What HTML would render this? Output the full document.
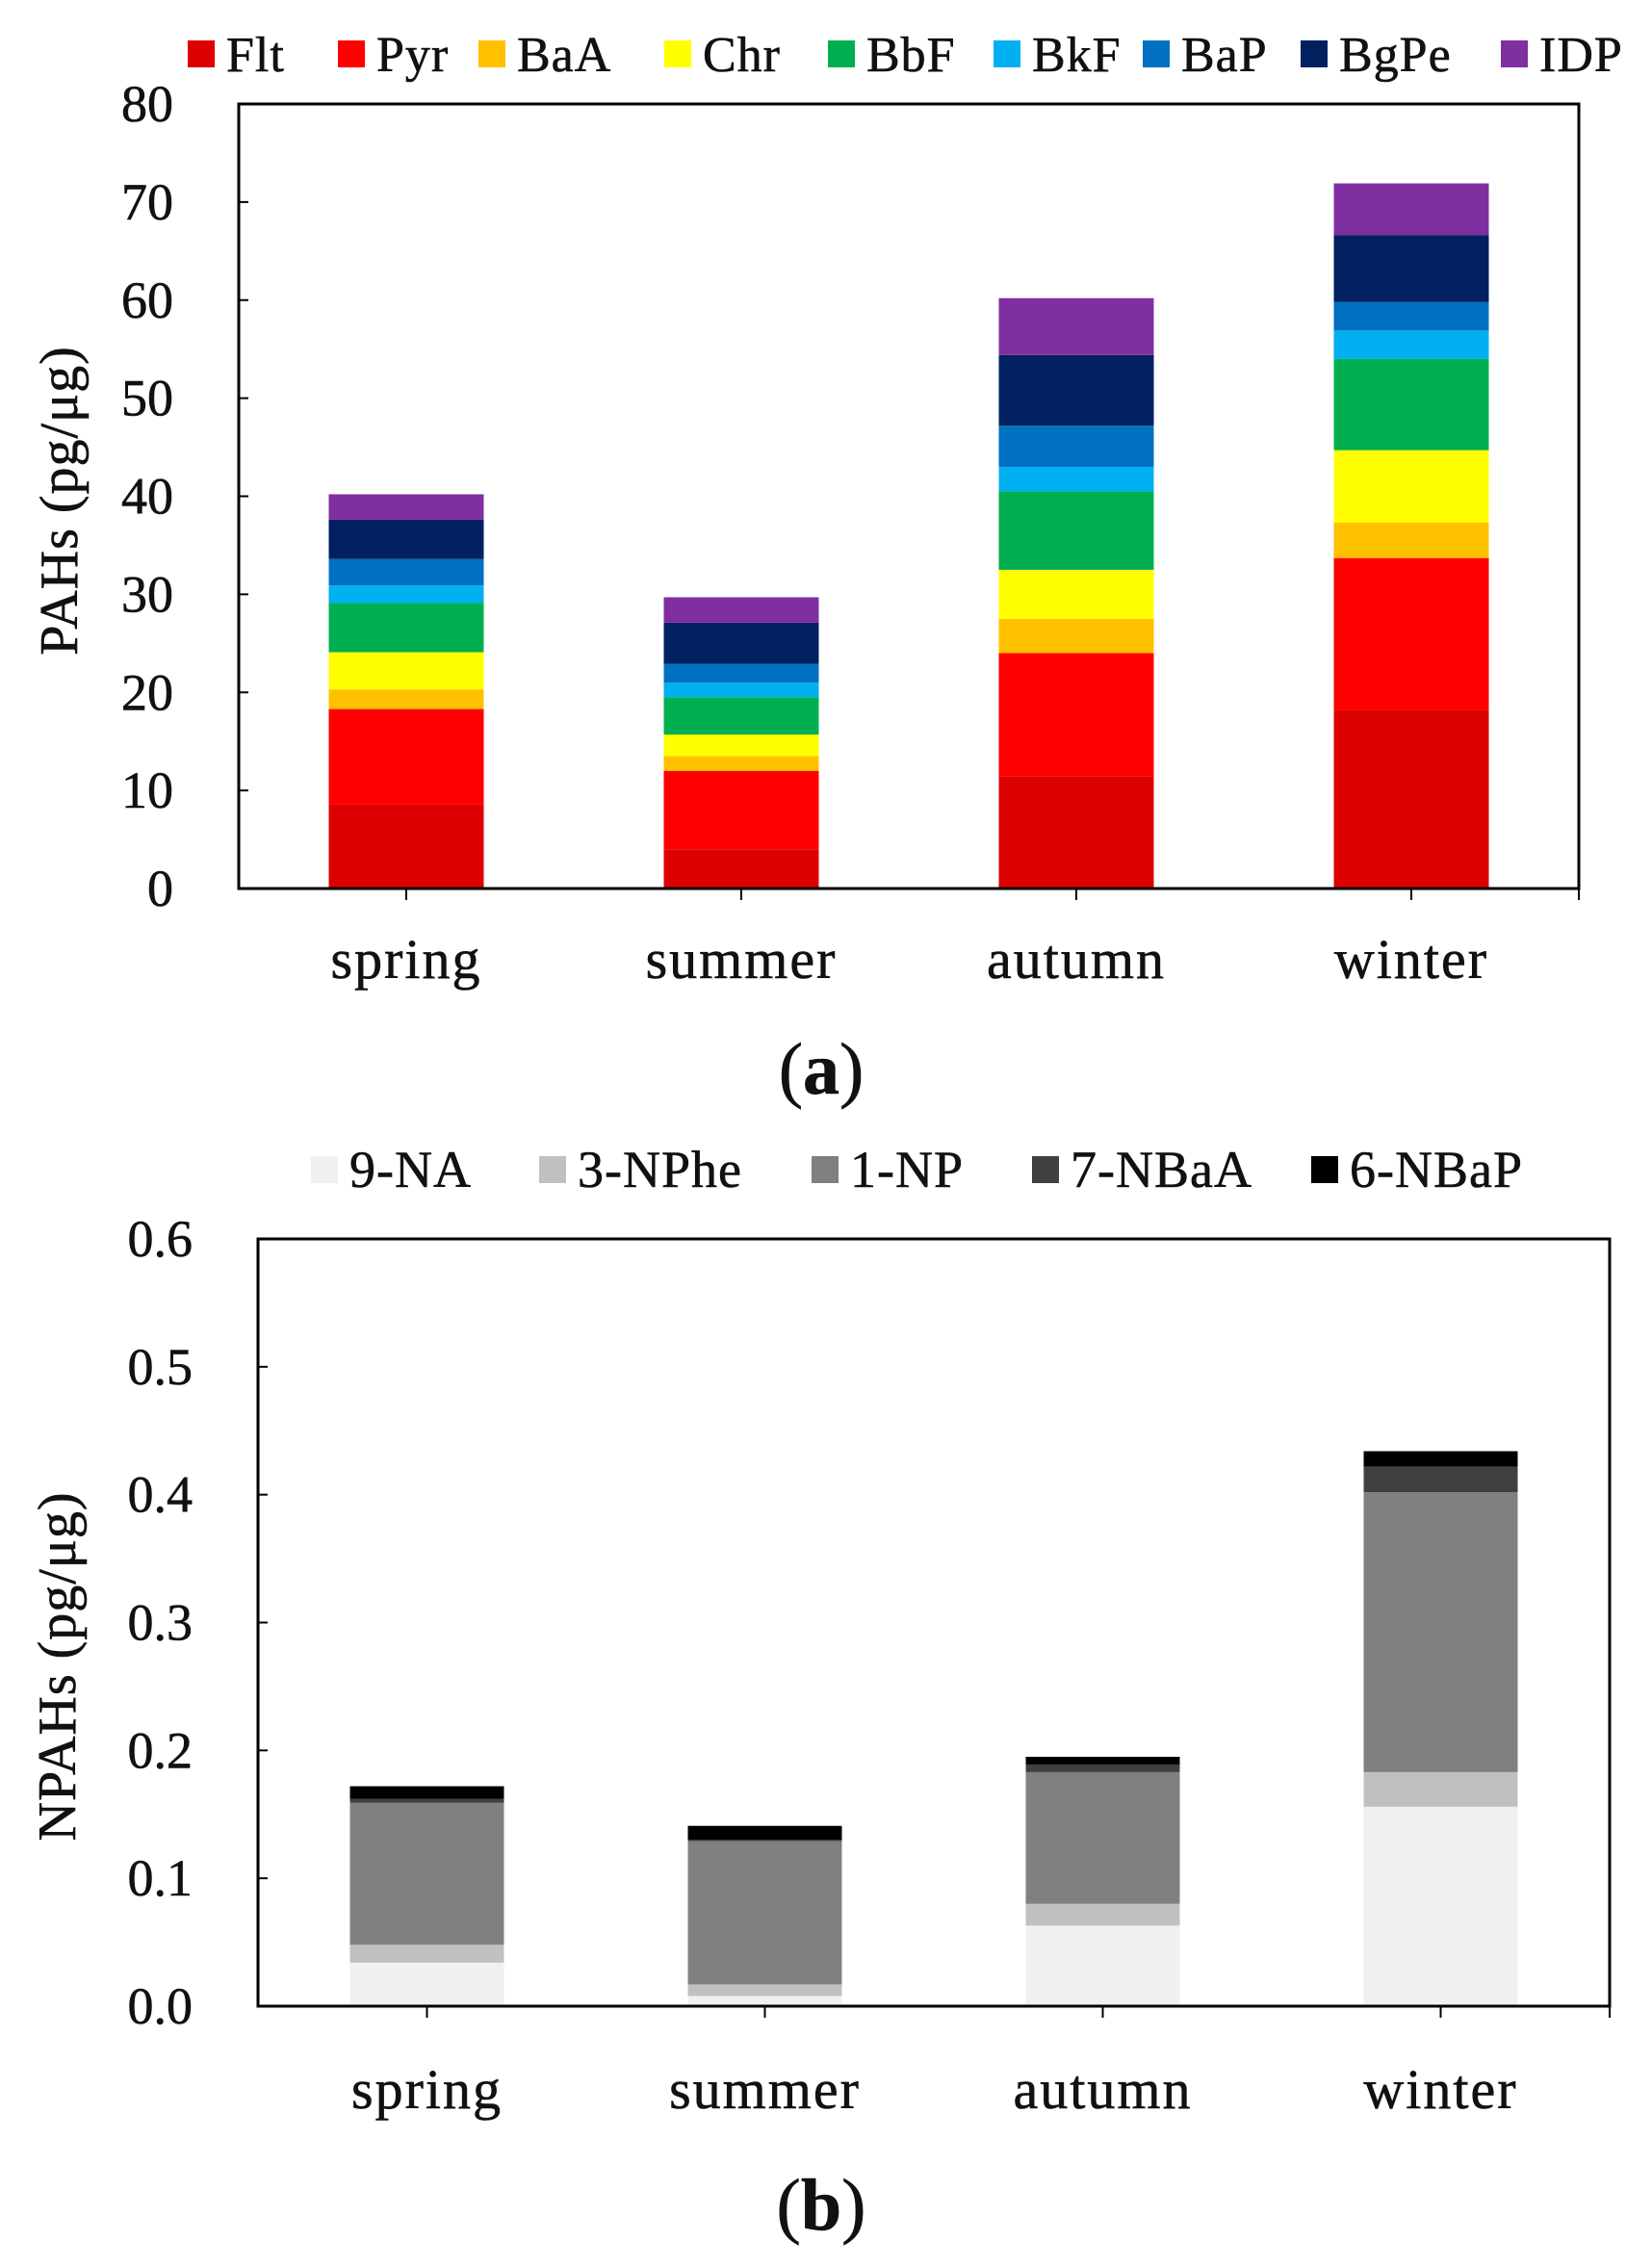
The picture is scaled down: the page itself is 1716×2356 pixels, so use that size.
<!DOCTYPE html>
<html><head><meta charset="utf-8"><style>
html,body{margin:0;padding:0;background:#fff;}
svg{display:block;font-family:"Liberation Serif",serif;}
text{fill:#111;stroke:#111;stroke-width:0.6;}
</style></head><body>
<svg id="fig" width="1716" height="2356" viewBox="0 0 1716 2356" xmlns="http://www.w3.org/2000/svg"></svg>
<script>
const categories = ["spring","summer","autumn","winter"];
// Chart (a) PAHs, pg/ug
const pahNames = ["Flt","Pyr","BaA","Chr","BbF","BkF","BaP","BgPe","IDP"];
const pahColors = ["#dd0000","#ff0000","#ffc000","#ffff00","#00b050","#00b0f0","#0070c0","#002060","#7f2fa0"];
const flt = [8.6,4.0,11.4,18.2];
const pyr = [9.7,8.0,12.6,15.5];
const baa = [2.0,1.5,3.5,3.6];
const chr = [3.8,2.2,5.0,7.4];
const bbf = [5.0,3.8,8.0,9.3];
const bkf = [1.8,1.5,2.5,2.9];
const bap = [2.7,1.9,4.2,2.9];
const bgpe = [4.0,4.2,7.2,6.8];
const idp = [2.6,2.6,5.8,5.3];
const pahSeries = [flt,pyr,baa,chr,bbf,bkf,bap,bgpe,idp];
const pahTicks = ["0","10","20","30","40","50","60","70","80"];
// Chart (b) NPAHs
const npahNames = ["9-NA","3-NPhe","1-NP","7-NBaA","6-NBaP"];
const npahColors = ["#f0f0f0","#c0c0c0","#808080","#404040","#000000"];
const na9 = [0.034,0.008,0.063,0.156];
const nphe3 = [0.014,0.009,0.017,0.027];
const np1 = [0.111,0.112,0.103,0.219];
const nbaa7 = [0.003,0.001,0.006,0.020];
const nbap6 = [0.010,0.011,0.006,0.012];
const npahSeries = [na9,nphe3,np1,nbaa7,nbap6];
const npahTicks = ["0.0","0.1","0.2","0.3","0.4","0.5","0.6"];

const NS="http://www.w3.org/2000/svg";
const svg=document.getElementById('fig');
function mk(tag,attrs,parent){const e=document.createElementNS(NS,tag);for(const k in attrs)e.setAttribute(k,attrs[k]);(parent||svg).appendChild(e);return e;}

function chart(cfg){
  const g=mk('g',{});
  
  
  const {L,R,T,B,max}=cfg;
  const y=v=>B-(v/max)*(B-T);
  const step=(R-L)/categories.length;
  const x=i=>L+step*(i+0.5);
  categories.forEach((c,i)=>{
    let base=0;
    cfg.series.forEach((s,k)=>{
      const r=mk('rect',{x:x(i)-cfg.bw/2,y:y(base+s[i]),width:cfg.bw,height:y(base)-y(base+s[i]),fill:cfg.colors[k]},g);
      
      
      base+=s[i];
    });
  });
  const f=mk('rect',{x:L,y:T,width:R-L,height:B-T,fill:'none',stroke:'#000','stroke-width':3},g);
  
  
  cfg.ticks.forEach((t,i)=>{
    const v=max*i/(cfg.ticks.length-1);
    mk('line',{x1:L,x2:L+10,y1:y(v),y2:y(v),stroke:'#000','stroke-width':2},g);
    const tx=mk('text',{x:cfg.labelX,y:y(v)+18,'text-anchor':'end','font-size':54},g);
    tx.textContent=t;
    
    
  });
  categories.forEach((c,i)=>{
    mk('line',{x1:x(i),x2:x(i),y1:B,y2:B+12,stroke:'#000','stroke-width':2},g);
    const tx=mk('text',{x:x(i),y:cfg.catY,'text-anchor':'middle','font-size':58,'letter-spacing':2},g);
    tx.textContent=c;
    
    
  });
  mk('line',{x1:R,x2:R,y1:B,y2:B+12,stroke:'#000','stroke-width':2},g);
  const yt=mk('text',{x:0,y:0,transform:`translate(${cfg.titleX},${cfg.titleY}) rotate(-90)`,'text-anchor':'middle','font-size':56,'letter-spacing':1},g);
  yt.textContent=cfg.title;
  
  
  cfg.names.forEach((n,k)=>{
    const lx=cfg.legX[k];
    const sq=mk('rect',{x:lx,y:cfg.legY-15,width:28,height:28,fill:cfg.colors[k]},g);
    
    
    const tx=mk('text',{x:lx+40,y:cfg.legY+17,'font-size':cfg.legFont,'letter-spacing':1},g);
    tx.textContent=n;
    
    
  });
  const p=mk('text',{x:853,y:cfg.panelY,'text-anchor':'middle','font-size':76},g);
  p.innerHTML='(<tspan font-weight="bold">'+cfg.panel+'</tspan>)';
  
  
}

chart({name:'pahs-chart',L:248,R:1640,T:108,B:923,max:80,bw:161,series:pahSeries,colors:pahColors,names:pahNames,ticks:pahTicks,labelX:180,catY:1016,title:'PAHs (pg/μg)',titleX:80,titleY:520,legX:[195,351,497,690,860,1032,1187,1351,1559],legY:57,legFont:52,panel:'a',panelY:1136});
chart({name:'npahs-chart',L:268,R:1672,T:1287,B:2084,max:0.6,bw:160,series:npahSeries,colors:npahColors,names:npahNames,ticks:npahTicks,labelX:200,catY:2190,title:'NPAHs (pg/μg)',titleX:78,titleY:1731,legX:[323,560,843,1072,1362],legY:1216,legFont:54,panel:'b',panelY:2316});
</script>
</body></html>
